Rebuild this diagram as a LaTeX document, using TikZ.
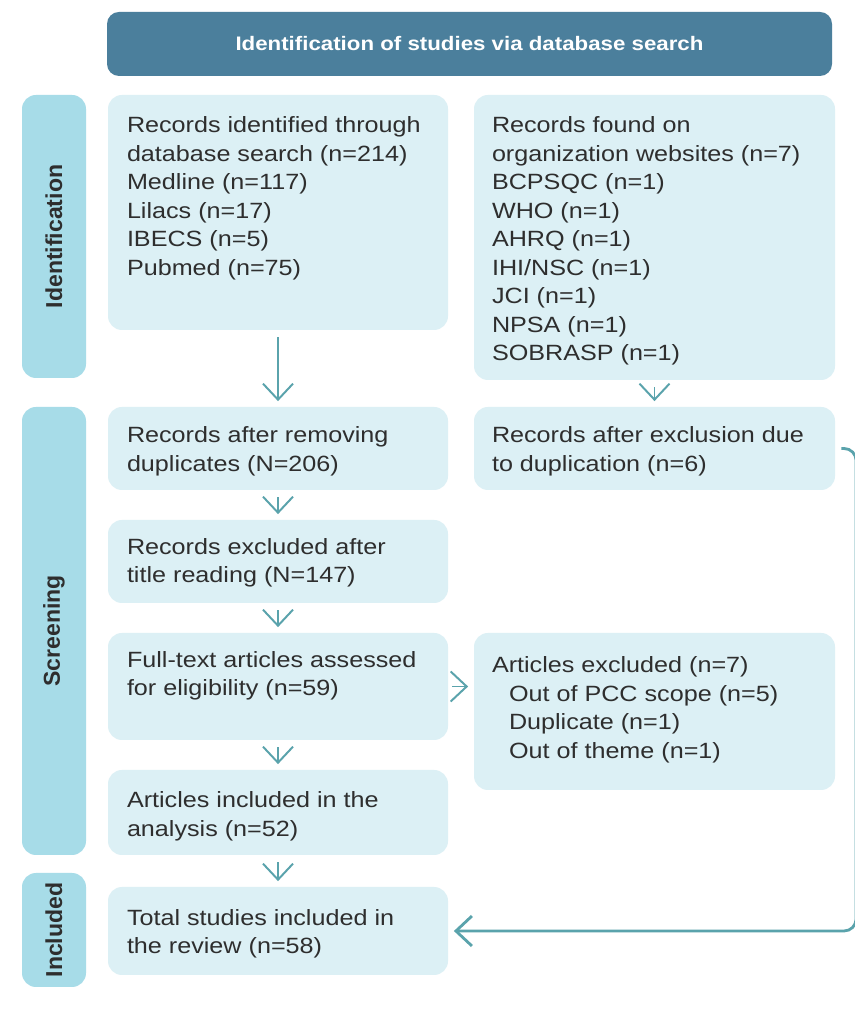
\documentclass[tikz,border=0pt]{standalone}
\usepackage{fontspec}
\setmainfont{Liberation Sans}
\newfontfamily\boxfont{Liberation Sans}[FakeStretch=1.14]
\usetikzlibrary{arrows.meta}
\definecolor{bannerblue}{HTML}{4B7F9C}
\definecolor{stagecyan}{HTML}{A7DCE8}
\definecolor{boxcyan}{HTML}{DCF0F5}
\definecolor{flowteal}{HTML}{5AA3AC}
\definecolor{inkgrey}{HTML}{2E2E2E}

\begin{document}
\begin{tikzpicture}[
	box/.style={shape=rectangle, fill=boxcyan, rounded corners=0.35cm, inner sep=0pt},
	stage/.style={shape=rectangle, fill=stagecyan, rounded corners=0.35cm, rotate=90, minimum height=1.6cm, inner sep=0pt, text=inkgrey, font=\bfseries\fontsize{16.4}{19}\selectfont},
	boxtext/.style={anchor=north west, align=left, inner sep=0pt, text=inkgrey, font=\boxfont\fontsize{15.7}{20.3}\selectfont},
	flow/.style={draw=flowteal, line width=1.4pt, -{Straight Barb[length=0.4cm, width=0.75cm]}, shorten <=0.17cm, shorten >=0.14cm}
	]
	% Page frame:
	\path[use as bounding box, fill=white] (0, 0) rectangle (21.35, 25.25);
	% Banner and stage labels:
	\node[shape=rectangle, fill=bannerblue, rounded corners=0.3cm, minimum width=18.125cm, minimum height=1.6cm, text=white, font=\boxfont\bfseries\fontsize{13.9}{17}\selectfont] (banner) at (11.7375, 24.15){Identification of studies via database search};
	\node[stage, minimum width=7.075cm] (stageid) at (1.35, 19.3375){Identification};
	\node[stage, minimum width=11.2cm] (stagescr) at (1.35, 9.475){Screening};
	\node[stage, minimum width=2.85cm] (stageinc) at (1.35, 2.0){Included};
	% Left column:
	\node[box, minimum width=8.5cm, minimum height=5.875cm] (dbsearch) at (6.95, 19.9375){} node[boxtext] (dbsearchtext) at ([shift={(0.475, -0.54)}]dbsearch.north west){Records identified through\\database search (n=214)\\Medline (n=117)\\Lilacs (n=17)\\IBECS (n=5)\\Pubmed (n=75)};
	\node[box, minimum width=8.5cm, minimum height=2.075cm] (dedup) at (6.95, 14.0375){} node[boxtext] (deduptext) at ([shift={(0.475, -0.49)}]dedup.north west){Records after removing\\duplicates (N=206)};
	\node[box, minimum width=8.5cm, minimum height=2.075cm] (titleexcl) at (6.95, 11.2125){} node[boxtext] (titleexcltext) at ([shift={(0.475, -0.46)}]titleexcl.north west){Records excluded after\\title reading (N=147)};
	\node[box, minimum width=8.5cm, minimum height=2.675cm] (fulltext) at (6.95, 8.0875){} node[boxtext] (fulltexttext) at ([shift={(0.475, -0.46)}]fulltext.north west){Full-text articles assessed\\for eligibility (n=59)};
	\node[box, minimum width=8.5cm, minimum height=2.125cm] (analysis) at (6.95, 4.9375){} node[boxtext] (analysistext) at ([shift={(0.475, -0.54)}]analysis.north west){Articles included in the\\analysis (n=52)};
	\node[box, minimum width=8.5cm, minimum height=2.2cm] (total) at (6.95, 1.975){} node[boxtext] (totaltext) at ([shift={(0.475, -0.56)}]total.north west){Total studies included in\\the review (n=58)};
	% Right column:
	\node[box, minimum width=9.025cm, minimum height=7.125cm] (orgweb) at (16.3625, 19.3125){} node[boxtext] (orgwebtext) at ([shift={(0.45, -0.54)}]orgweb.north west){Records found on\\organization websites (n=7)\\BCPSQC (n=1)\\WHO (n=1)\\AHRQ (n=1)\\IHI/NSC (n=1)\\JCI (n=1)\\NPSA (n=1)\\SOBRASP (n=1)};
	\node[box, minimum width=9.025cm, minimum height=2.075cm] (orgdedup) at (16.3625, 14.0375){} node[boxtext] (orgdeduptext) at ([shift={(0.45, -0.49)}]orgdedup.north west){Records after exclusion due\\to duplication (n=6)};
	\node[box, minimum width=9.025cm, minimum height=3.925cm] (excluded) at (16.3625, 7.4625){} node[boxtext] (excludedtext) at ([shift={(0.45, -0.59)}]excluded.north west){Articles excluded (n=7)\\\hspace*{0.425cm}Out of PCC scope (n=5)\\\hspace*{0.425cm}Duplicate (n=1)\\\hspace*{0.425cm}Out of theme (n=1)};
	% Arrows:
	\draw[flow] (dbsearch) -- (dedup);
	\draw[flow] (dedup) -- (titleexcl);
	\draw[flow] (titleexcl) -- (fulltext);
	\draw[flow] (fulltext) -- (analysis);
	\draw[flow] (analysis) -- (total);
	\draw[flow] (orgweb) -- (orgdedup);
	\draw[flow, shorten <=0.1cm] (fulltext.east) -- (fulltext.east -| excluded.west);
	\draw[flow, line width=2pt, rounded corners=0.3cm, shorten <=0.15cm] (orgdedup.east) -- ++(0.52, 0) |- (total.east);
\end{tikzpicture}
\end{document}
